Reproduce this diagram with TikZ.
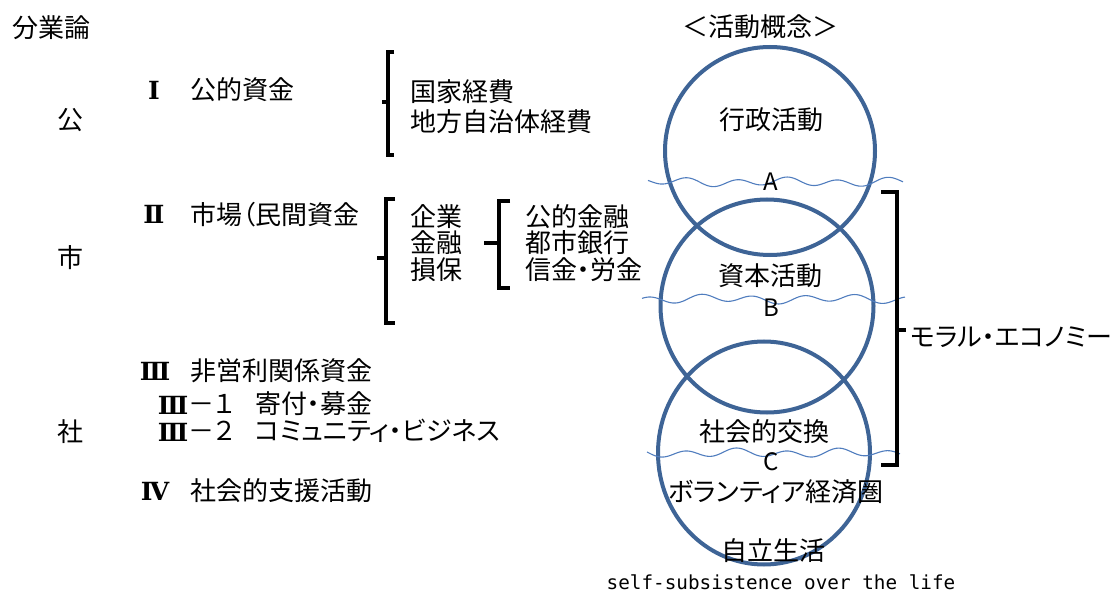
\documentclass[tikz,border=0pt]{standalone}
\usepackage{fontspec}
\setmainfont{Noto Sans CJK JP}[RawFeature=+palt]
\newfontfamily\romfont{DejaVu Serif}[BoldFont=* Bold]
\newfontfamily\latmono{DejaVu Sans Mono}
\usetikzlibrary{shapes.geometric}
\definecolor{circblue}{RGB}{62,100,150}
\definecolor{waveblue}{RGB}{80,125,190}
\begin{document}
\begin{tikzpicture}[x=1pt,y=-1pt,
  txt/.style={font=\fontsize{26}{30}\selectfont, inner sep=0pt},
  lbl/.style={txt, anchor=west},
  rom/.style={font=\romfont\bfseries\fontsize{25}{29}\selectfont, inner sep=0pt},
  small/.style={font=\fontsize{24}{28}\selectfont, inner sep=0pt},
  ring/.style={draw=circblue, line width=4pt, ellipse, inner sep=0pt},
  brace/.style={draw=black, line width=3.5pt},
  wave/.style={draw=waveblue, line width=1.1pt}]
\useasboundingbox (0,0) rectangle (1117,596);

% circles
\node[ring, minimum width=210pt, minimum height=208pt] (c1) at (770,151) {};
\node[ring, minimum width=213pt, minimum height=213pt] (c2) at (767,306) {};
\node[ring, minimum width=212pt, minimum height=223pt] (c3) at (764,453) {};

% waves
\draw[wave] plot[domain=648:903, samples=120, smooth] (\x, {182 + 3.5*sin(7.2*\x) + 1.5*sin(3.1*\x)});
\draw[wave] plot[domain=642:905, samples=120, smooth] (\x, {299 + 3.5*sin(7.0*\x+40) + 1.5*sin(2.9*\x)});
\draw[wave] plot[domain=647:900, samples=120, smooth] (\x, {453 + 3.5*sin(7.1*\x+80) + 1.5*sin(3.3*\x)});

% left column
\node[lbl] (bun) at (12,28) {分業論};
\node[txt] (ko) at (70,120) {公};
\node[txt] (ichi) at (70,258) {市};
\node[txt] (sha) at (70,432) {社};

\node[rom] (r1) at (154,90) {Ⅰ};
\node[lbl] (t1) at (190,90) {公的資金};
\node[rom] (r2) at (154,214) {Ⅱ};
\node[lbl] (t2) at (190,215) {市場（民間資金};
\node[rom] (r3) at (155,371) {Ⅲ};
\node[lbl] (t3) at (190,371) {非営利関係資金};
\node[rom] (r31) at (173,405) {Ⅲ};
\node[lbl] (m31) at (188,404) {－１};
\node[lbl] (t31) at (255,404) {寄付・募金};
\node[rom] (r32) at (173,432) {Ⅲ};
\node[lbl] (m32) at (188,431) {－２};
\node[lbl] (t32) at (255,431) {コミュニティ・ビジネス};
\node[rom] (r4) at (155,491) {Ⅳ};
\node[lbl] (t4) at (190,491) {社会的支援活動};

% bracket 1
\coordinate (b1t) at (394,52); \coordinate (b1b) at (394,155);
\draw[brace] (b1t) -- (388,52) -- (388,155) -- (b1b);
\draw[brace] (388,102) -- (382,102);
\node[lbl] (k1) at (410,92) {国家経費};
\node[lbl] (k2) at (410,122) {地方自治体経費};

% bracket 2
\coordinate (b2t) at (395,199); \coordinate (b2b) at (395,323);
\draw[brace] (b2t) -- (386,199) -- (386,323) -- (b2b);
\draw[brace] (386,258) -- (377,258);
\node[lbl] (m1) at (410,217) {企業};
\node[lbl] (m2) at (410,243) {金融};
\node[lbl] (m3) at (410,270) {損保};

% bracket 3
\coordinate (b3t) at (510,201); \coordinate (b3b) at (510,288);
\draw[brace] (b3t) -- (499,201) -- (499,288) -- (b3b);
\draw[brace] (499,243) -- (484,243);
\node[lbl] (f1) at (525,217) {公的金融};
\node[lbl] (f2) at (525,243) {都市銀行};
\node[lbl] (f3) at (525,270) {信金・労金};

% right side
\node[txt] (kat) at (760,27) {＜活動概念＞};
\node[txt] (gyo) at (771,120) {行政活動};
\node[txt] (shi) at (770,276) {資本活動};
\node[txt] (soc) at (764,432) {社会的交換};
\node[txt] (vol) at (776,492) {ボランティア経済圏};
\node[txt] (jir) at (773,551) {自立生活};
\node[font=\latmono\fontsize{19.3}{23}\selectfont, inner sep=0pt] (self) at (781,582) {self-subsistence over the life};
\node[small] (A) at (771,182) {A};
\node[small] (B) at (771,308) {B};
\node[small] (C) at (771,462) {C};

% big bracket
\coordinate (bbt) at (881,192); \coordinate (bbb) at (881,465);
\draw[brace] (bbt) -- (897,192) -- (897,465) -- (bbb);
\draw[brace] (897,330) -- (906,330);
\node[lbl] (moral) at (910,337) {モラル・エコノミー};
\end{tikzpicture}
\end{document}
